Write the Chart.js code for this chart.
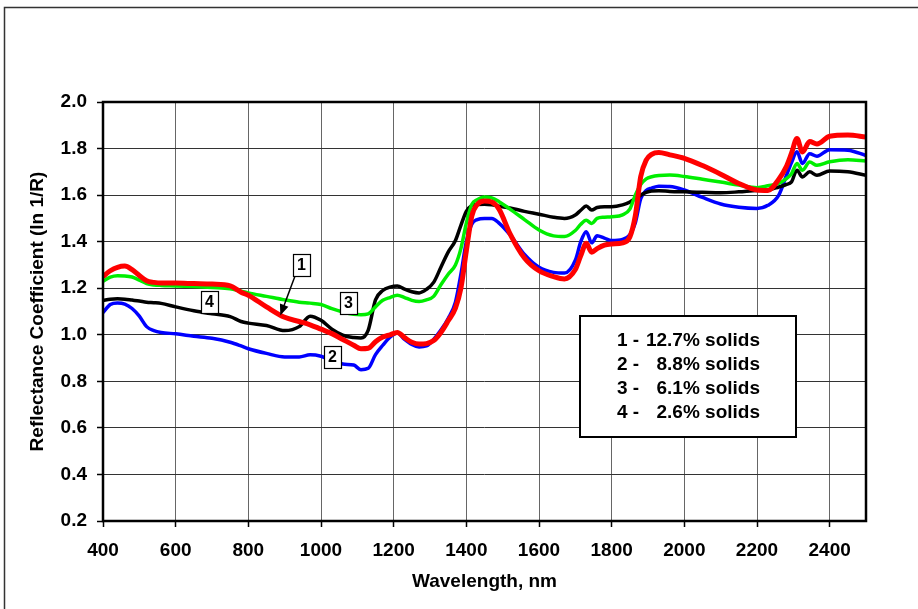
<!DOCTYPE html>
<html lang="en">
<head>
<meta charset="UTF-8">
<title>Reflectance Coefficient vs Wavelength</title>
<script src="https://cdn.jsdelivr.net/npm/chart.js@4"></script>
<style>
  html, body { margin: 0; padding: 0; background: #fff; }
  #wrap { position: relative; width: 918px; height: 609px; }
</style>
</head>
<body>
<div id="wrap"><canvas id="chart" width="918" height="609"></canvas></div>
<script>
// wavelength grid (nm) shared by all four spectra
const wavelengths = [
    400, 420, 440, 460, 480, 500, 520, 540, 560, 600, 650, 700, 750, 780, 800, 850, 900, 940, 970, 1000,
    1030, 1060, 1090, 1110, 1130, 1150, 1170, 1190, 1210, 1230, 1250, 1270, 1290, 1310, 1330, 1350, 1370, 1385, 1400, 1415,
    1430, 1450, 1470, 1490, 1520, 1560, 1600, 1640, 1670, 1700, 1715, 1730, 1745, 1760, 1780, 1800, 1830, 1850, 1865, 1880,
    1895, 1910, 1930, 1960, 2000, 2050, 2100, 2150, 2200, 2230, 2260, 2280, 2295, 2310, 2325, 2345, 2365, 2400, 2450, 2500
];

// 1 - 12.7% solids (red)
const solids127 = [
    1.25, 1.275, 1.29, 1.295, 1.28, 1.255, 1.232, 1.225, 1.222, 1.222, 1.22, 1.218, 1.21, 1.183, 1.17, 1.12, 1.075, 1.057, 1.043, 1.024,
    1.005, 0.98, 0.955, 0.94, 0.942, 0.97, 0.99, 1.0, 1.01, 0.988, 0.968, 0.96, 0.962, 0.975, 1.01, 1.06, 1.115, 1.2, 1.36, 1.51,
    1.56, 1.575, 1.57, 1.54, 1.435, 1.33, 1.275, 1.25, 1.24, 1.28, 1.34, 1.393, 1.355, 1.37, 1.385, 1.39, 1.395, 1.42, 1.51, 1.68,
    1.75, 1.775, 1.783, 1.773, 1.758, 1.727, 1.69, 1.65, 1.622, 1.62, 1.668, 1.72, 1.78, 1.843, 1.785, 1.83, 1.82, 1.853, 1.858, 1.85
];

// 2 - 8.8% solids (blue)
const solids88 = [
    1.095, 1.13, 1.137, 1.132, 1.113, 1.08, 1.035, 1.018, 1.01, 1.004, 0.994, 0.985, 0.968, 0.952, 0.94, 0.92, 0.905, 0.905, 0.914, 0.908,
    0.89, 0.874, 0.87, 0.85, 0.856, 0.915, 0.955, 0.99, 1.008, 0.98, 0.958, 0.948, 0.952, 0.98, 1.02, 1.07, 1.14, 1.26, 1.4, 1.475,
    1.495, 1.5, 1.5, 1.48, 1.43, 1.345, 1.29, 1.268, 1.265, 1.32, 1.4, 1.443, 1.395, 1.425, 1.415, 1.405, 1.41, 1.43, 1.48, 1.585,
    1.62, 1.63, 1.638, 1.637, 1.622, 1.59, 1.562, 1.548, 1.543, 1.556, 1.6, 1.68, 1.74, 1.786, 1.736, 1.778, 1.767, 1.795, 1.793, 1.77
];

// 3 - 6.1% solids (green)
const solids61 = [
    1.23, 1.248, 1.254, 1.253, 1.248, 1.235, 1.22, 1.214, 1.212, 1.21, 1.207, 1.203, 1.198, 1.187, 1.18, 1.165, 1.15, 1.14, 1.136, 1.13,
    1.112, 1.098, 1.088, 1.086, 1.09, 1.12, 1.148, 1.16, 1.17, 1.16, 1.148, 1.143, 1.15, 1.165, 1.215, 1.26, 1.3, 1.37, 1.48, 1.56,
    1.58, 1.592, 1.588, 1.572, 1.54, 1.495, 1.45, 1.425, 1.422, 1.448, 1.475, 1.492, 1.478, 1.5, 1.505, 1.507, 1.515, 1.54, 1.6, 1.645,
    1.67, 1.679, 1.684, 1.686, 1.68, 1.668, 1.656, 1.643, 1.632, 1.64, 1.65, 1.67, 1.692, 1.736, 1.707, 1.742, 1.728, 1.743, 1.752, 1.747
];

// 4 - 2.6% solids (black)
const solids26 = [
    1.148, 1.153, 1.155, 1.153, 1.149, 1.145, 1.14, 1.138, 1.135, 1.12, 1.103, 1.09, 1.078, 1.057, 1.05, 1.04, 1.018, 1.035, 1.08, 1.062,
    1.024, 0.998, 0.988, 0.986, 1.02, 1.15, 1.19, 1.205, 1.21, 1.196, 1.185, 1.18, 1.195, 1.225, 1.29, 1.355, 1.405, 1.47, 1.53, 1.555,
    1.56, 1.561, 1.558, 1.552, 1.545, 1.53, 1.518, 1.505, 1.5, 1.515, 1.535, 1.553, 1.536, 1.547, 1.55, 1.55, 1.558, 1.57, 1.585, 1.6,
    1.612, 1.618, 1.619, 1.616, 1.614, 1.612, 1.61, 1.614, 1.62, 1.622, 1.635, 1.645, 1.657, 1.707, 1.678, 1.7, 1.685, 1.704, 1.7, 1.685
];

// numbered tags on the curves, and where the "1" arrow points
const tagTexts = ['1', '2', '3', '4'];
const tagWavelengths = [945, 1029, 1074, 692];
const tagValues = [1.30, 0.903, 1.137, 1.139];
const arrowTip = [888, 1.083];

// text box
const legendIds = ['1 -', '2 -', '3 -', '4 -'];
const legendSolids = ['12.7% solids', '8.8% solids', '6.1% solids', '2.6% solids'];

const FONT = "'Liberation Sans', Arial, Helvetica, sans-serif";

function toPoints(values) {
    return values.map((v, i) => ({ x: wavelengths[i], y: v }));
}

function makeSeries(label, values, color, width) {
    return {
        label: label,
        data: toPoints(values),
        borderColor: color,
        backgroundColor: color,
        borderWidth: width,
        pointRadius: 0,
        fill: false,
        cubicInterpolationMode: 'monotone'
    };
}

const decorations = {
    id: 'decorations',
    beforeDraw(chart) {
        const ctx = chart.ctx;
        ctx.save();
        ctx.fillStyle = '#fff';
        ctx.fillRect(0, 0, chart.width, chart.height);
        // outer frame (runs off the right and bottom of the picture)
        ctx.strokeStyle = '#333';
        ctx.lineWidth = 1.5;
        ctx.strokeRect(4.5, 7.5, chart.width + 20, chart.height + 20);
        ctx.restore();
    },
    afterDraw(chart) {
        const ctx = chart.ctx;
        const a = chart.chartArea;
        const xs = chart.scales.x;
        const ys = chart.scales.y;
        ctx.save();

        // heavy plot border
        ctx.strokeStyle = '#000';
        ctx.lineWidth = 2.5;
        ctx.strokeRect(a.left, a.top, a.right - a.left, a.bottom - a.top);

        // arrow from tag 1 down to its curve
        const tx = xs.getPixelForValue(tagWavelengths[0]) - 6;
        const ty = ys.getPixelForValue(tagValues[0]) + 11;
        const hx = xs.getPixelForValue(arrowTip[0]);
        const hy = ys.getPixelForValue(arrowTip[1]);
        const ang = Math.atan2(hy - ty, hx - tx);
        ctx.lineWidth = 1.5;
        ctx.beginPath();
        ctx.moveTo(tx, ty);
        ctx.lineTo(hx - Math.cos(ang) * 8, hy - Math.sin(ang) * 8);
        ctx.stroke();
        ctx.beginPath();
        ctx.moveTo(hx, hy);
        ctx.lineTo(hx - Math.cos(ang) * 11 + Math.sin(ang) * 4.5, hy - Math.sin(ang) * 11 - Math.cos(ang) * 4.5);
        ctx.lineTo(hx - Math.cos(ang) * 11 - Math.sin(ang) * 4.5, hy - Math.sin(ang) * 11 + Math.cos(ang) * 4.5);
        ctx.closePath();
        ctx.fillStyle = '#000';
        ctx.fill();

        // numbered tags
        ctx.font = 'bold 16px ' + FONT;
        ctx.textAlign = 'center';
        ctx.textBaseline = 'middle';
        tagTexts.forEach((t, i) => {
            const cx = Math.round(xs.getPixelForValue(tagWavelengths[i]));
            const cy = Math.round(ys.getPixelForValue(tagValues[i]));
            ctx.fillStyle = '#fff';
            ctx.fillRect(cx - 8, cy - 11, 17, 22);
            ctx.strokeStyle = '#000';
            ctx.lineWidth = 1.2;
            ctx.strokeRect(cx - 8 + 0.5, cy - 11 + 0.5, 17, 22);
            ctx.fillStyle = '#000';
            ctx.fillText(t, cx + 0.5, cy + 1);
        });

        // text box with the solids content
        const bx = a.left + 477;
        const by = a.top + 214;
        ctx.fillStyle = '#fff';
        ctx.fillRect(bx, by, 216, 121);
        ctx.strokeStyle = '#000';
        ctx.lineWidth = 2;
        ctx.strokeRect(bx, by, 216, 121);
        ctx.fillStyle = '#000';
        ctx.font = 'bold 19px ' + FONT;
        legendIds.forEach((id, i) => {
            const ly = by + 25 + i * 24;
            ctx.textAlign = 'left';
            ctx.fillText(id, bx + 37, ly);
            ctx.textAlign = 'right';
            ctx.fillText(legendSolids[i], bx + 180, ly);
        });
        ctx.restore();
    }
};

const ctx = document.getElementById('chart').getContext('2d');
new Chart(ctx, {
    type: 'line',
    data: {
        datasets: [
            makeSeries('1 - 12.7% solids', solids127, '#ff0000', 5),
            makeSeries('3 - 6.1% solids', solids61, '#00ee00', 3.5),
            makeSeries('4 - 2.6% solids', solids26, '#000000', 3.5),
            makeSeries('2 - 8.8% solids', solids88, '#0000ff', 3.5)
        ]
    },
    options: {
        responsive: false,
        devicePixelRatio: 1,
        animation: false,
        layout: { padding: { top: 102, right: 52, left: 0, bottom: 0 } },
        plugins: {
            legend: { display: false },
            tooltip: { enabled: false }
        },
        scales: {
            x: {
                type: 'linear',
                min: 400,
                max: 2500,
                afterFit: (scale) => { scale.height = 88; },
                ticks: {
                    stepSize: 200,
                    includeBounds: false,
                    padding: 12,
                    color: '#000',
                    font: { family: FONT, size: 19, weight: 'bold' },
                    callback: (v) => String(v)
                },
                grid: { color: '#666', lineWidth: 1, tickLength: 6, tickColor: '#000', tickWidth: 1.5 },
                border: { display: false },
                title: {
                    display: true,
                    text: 'Wavelength, nm',
                    color: '#000',
                    padding: { top: 0, bottom: 16 },
                    font: { family: FONT, size: 19, weight: 'bold' }
                }
            },
            y: {
                min: 0.2,
                max: 2.0,
                afterFit: (scale) => { scale.width = 103; },
                ticks: {
                    stepSize: 0.2,
                    padding: 10,
                    color: '#000',
                    font: { family: FONT, size: 19, weight: 'bold' },
                    callback: (v) => Number(v).toFixed(1)
                },
                grid: { color: '#333', lineWidth: 1, tickLength: 6, tickColor: '#000', tickWidth: 1.5 },
                border: { display: false },
                title: {
                    display: true,
                    text: 'Reflectance Coefficient (ln 1/R)',
                    color: '#000',
                    padding: { top: 26, bottom: 0 },
                    font: { family: FONT, size: 19, weight: 'bold' }
                }
            }
        }
    },
    plugins: [decorations]
});
</script>
</body>
</html>
